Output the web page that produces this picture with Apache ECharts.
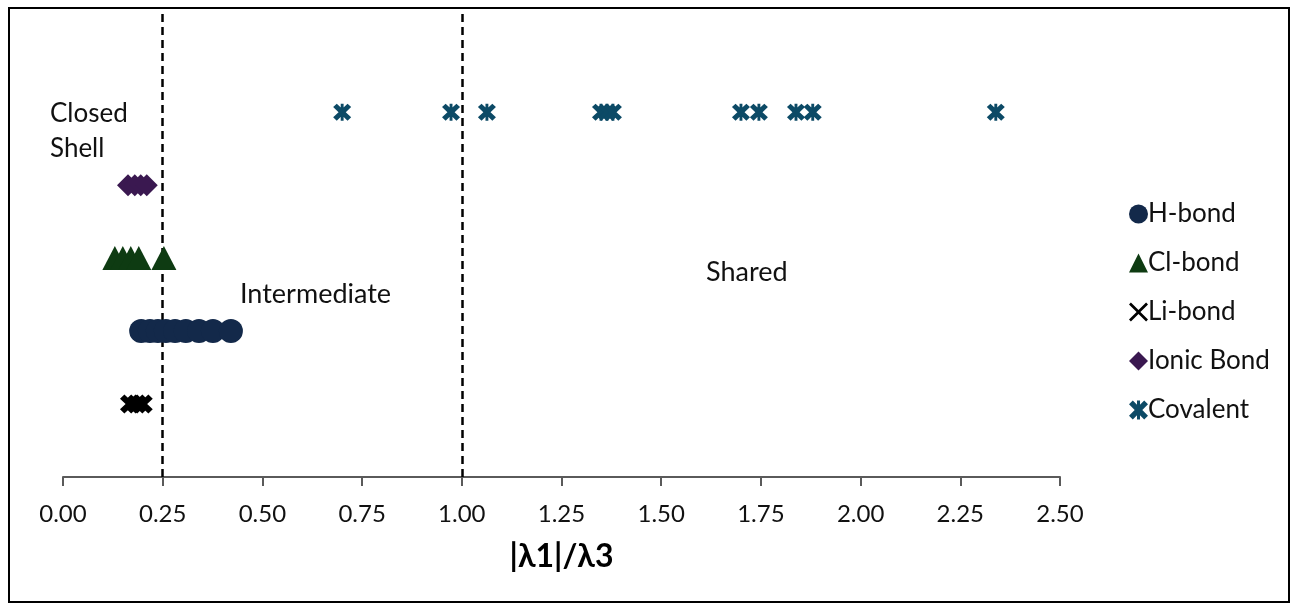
<!DOCTYPE html>
<html>
<head>
<meta charset="utf-8">
<script src="https://cdn.jsdelivr.net/npm/echarts@6/dist/echarts.min.js"></script>
<style>
html,body{margin:0;padding:0;background:#fff;}
#c{width:1295px;height:605px;}
</style>
</head>
<body>
<div id="c"></div>
<script>
// ---- data ----
const seriesNames = ['H-bond', 'Cl-bond', 'Li-bond', 'Ionic Bond', 'Covalent'];
const rowLevel = { 'H-bond': 2, 'Cl-bond': 3, 'Li-bond': 1, 'Ionic Bond': 4, 'Covalent': 5 };
const hbond = [0.196, 0.218, 0.238, 0.258, 0.281, 0.308, 0.341, 0.376, 0.421];
const clbond = [0.13, 0.15, 0.17, 0.19, 0.253];
const libond = [0.168, 0.185, 0.20];
const ionic = [0.163, 0.18, 0.195, 0.21];
const covalent = [0.70, 0.973, 1.063, 1.349, 1.364, 1.379, 1.70, 1.745, 1.838, 1.88, 2.339];
const boundaries = [0.25, 1.00];
const xTicks = [0, 0.25, 0.5, 0.75, 1, 1.25, 1.5, 1.75, 2, 2.25, 2.5];

// ---- styles ----
const FONT = 'Lato, "Open Sans", sans-serif';
const thickX = 'path://M0,2.2 L2.2,0 L5,2.8 L7.8,0 L10,2.2 L7.2,5 L10,7.8 L7.8,10 L5,7.2 L2.2,10 L0,7.8 L2.8,5 Z';
const thinX = 'path://M0,1 L1,0 L5,4 L9,0 L10,1 L6,5 L10,9 L9,10 L5,6 L1,10 L0,9 L4,5 Z';
const star = 'path://M0,2 L2,0 L5,3 L8,0 L10,2 L7,5 L10,8 L8,10 L5,7 L2,10 L0,8 L3,5 Z M4.2,0 L5.8,0 L5.8,10 L4.2,10 Z';

const colors = {
  'H-bond': '#13294a',
  'Cl-bond': '#0e3b12',
  'Li-bond': '#000000',
  'Ionic Bond': '#3a1850',
  'Covalent': '#0c4a66'
};
const symbols = {
  'H-bond': ['circle', 24],
  'Cl-bond': ['triangle', [25, 24]],
  'Li-bond': [thickX, [20, 19]],
  'Ionic Bond': ['diamond', [22, 22]],
  'Covalent': [star, [18, 17]]
};
const values = {
  'H-bond': hbond, 'Cl-bond': clbond, 'Li-bond': libond,
  'Ionic Bond': ionic, 'Covalent': covalent
};

const series = seriesNames.map(function (name, i) {
  const s = {
    name: name,
    type: 'scatter',
    symbol: symbols[name][0],
    symbolSize: symbols[name][1],
    itemStyle: { color: colors[name], opacity: 1 },
    data: values[name].map(function (v) { return [v, rowLevel[name]]; }),
    z: 3
  };
  if (i === 0) {
    s.markLine = {
      silent: true,
      symbol: ['none', 'none'],
      label: { show: false },
      lineStyle: { color: '#000', type: [8, 5], width: 2.5 },
      data: boundaries.map(function (b) { return { xAxis: b }; }),
      z: 1
    };
  }
  return s;
});

const chart = echarts.init(document.getElementById('c'));
chart.setOption({
  animation: false,
  backgroundColor: '#fff',
  grid: { left: 63, right: 235, top: 10, bottom: 128, containLabel: false },
  xAxis: {
    type: 'value',
    min: xTicks[0],
    max: xTicks[xTicks.length - 1],
    interval: 0.25,
    name: '|λ1|/λ3',
    nameLocation: 'middle',
    nameGap: 64,
    nameTextStyle: { fontFamily: FONT, fontSize: 32, fontWeight: 'bold', color: '#000' },
    axisLine: { show: true, onZero: false, lineStyle: { color: '#5a5a5a', width: 2 } },
    axisTick: { show: true, inside: false, length: 9, lineStyle: { color: '#5a5a5a', width: 2 } },
    axisLabel: {
      fontFamily: FONT, fontSize: 24, color: '#111', margin: 25,
      formatter: function (v) { return v.toFixed(2); }
    },
    splitLine: { show: false }
  },
  yAxis: {
    type: 'value',
    min: 0,
    max: 6.4,
    show: false
  },
  legend: {
    orient: 'vertical',
    left: 1124,
    top: 196,
    itemGap: 23,
    itemWidth: 19,
    itemHeight: 19,
    textStyle: { fontFamily: FONT, fontSize: 26, color: '#111', padding: [0, 0, 0, -5] },
    data: [
      { name: 'H-bond', icon: 'circle' },
      { name: 'Cl-bond', icon: 'triangle' },
      { name: 'Li-bond', icon: thinX, itemStyle: { color: '#000' } },
      { name: 'Ionic Bond', icon: 'diamond' },
      { name: 'Covalent', icon: star }
    ]
  },
  graphic: [
    { type: 'rect', shape: { x: 9, y: 8, width: 1280, height: 594 },
      style: { fill: 'none', stroke: '#000', lineWidth: 2 }, silent: true, z: 0 },
    { type: 'text', left: 50, top: 96,
      style: { text: 'Closed\nShell', font: '26px ' + FONT, fill: '#111', lineHeight: 35 } },
    { type: 'text', left: 240, top: 281,
      style: { text: 'Intermediate', font: '27px ' + FONT, fill: '#111' } },
    { type: 'text', left: 706, top: 259,
      style: { text: 'Shared', font: '27px ' + FONT, fill: '#111' } }
  ],
  series: series
});
</script>
</body>
</html>
